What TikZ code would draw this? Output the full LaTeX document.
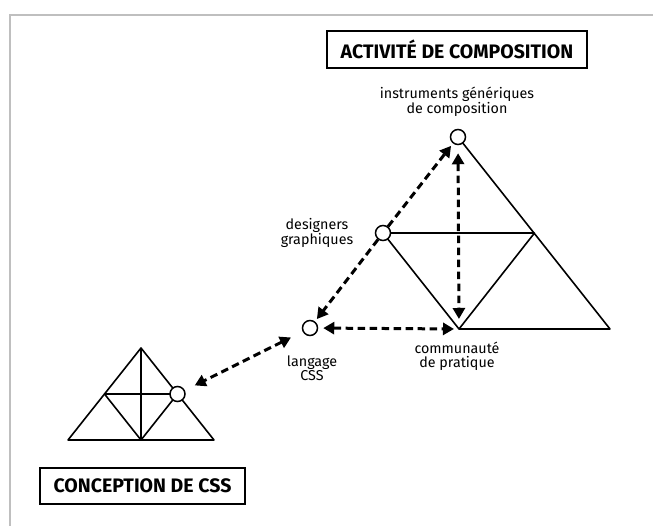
\documentclass[tikz,border=0pt]{standalone}
\usepackage{fontspec}
\setmainfont{Fira Sans}
\usetikzlibrary{arrows.meta}
\tikzset{
  tri/.style={line width=1.6pt, line join=round},
  vtx/.style={circle, draw, fill=white, line width=1.5pt, minimum size=15pt, inner sep=0pt},
  darr/.style={line width=3pt, dash pattern=on 7.5pt off 4.5pt, -{Triangle[length=11pt,width=12pt]}},
  ddarr/.style={line width=3pt, dash pattern=on 7.5pt off 4.5pt, {Triangle[length=11pt,width=12pt]}-{Triangle[length=11pt,width=12pt]}},
  lbl/.style={font=\fontsize{14.3}{14}\selectfont, align=center, inner sep=0pt},
  title/.style={draw, line width=1.8pt, font=\fontsize{19.5}{22}\selectfont\bfseries, inner sep=0pt, minimum height=37pt}
}
\begin{document}
\begin{tikzpicture}[x=1pt,y=-1pt]
\useasboundingbox (0,0) rectangle (653,526);
\draw[line width=1.5pt, black!25] (10,526) -- (10,15) -- (653,15);
% big triangle
\coordinate (A) at (458,137);
\coordinate (L) at (308,329);
\coordinate (R) at (610,329);
\coordinate (M) at (459,329);
\coordinate (D) at (383,233);
\coordinate (E) at (534.5,233);
\draw[tri] (A) -- (R) -- (M) -- (D) -- (E) -- (M);
% small triangle
\coordinate (sA) at (141,348);
\coordinate (sL) at (68,440);
\coordinate (sR) at (214,440);
\coordinate (sM) at (141,440);
\coordinate (sD) at (104.5,394);
\coordinate (sE) at (177.5,394);
\draw[tri] (sA) -- (sR) -- (sL) -- cycle;
\draw[tri] (sA) -- (sM);
\draw[tri] (sD) -- (sE) -- (sM) -- cycle;
% vertices
\node[vtx] (apex) at (A) {};
\node[vtx] (des) at (D) {};
\node[vtx] (lang) at (310,328) {};
\node[vtx] (css) at (sE) {};
% arrows
\draw[darr, shorten >=3pt] (des) -- (apex);
\draw[darr, shorten >=3pt] (des) -- (lang);
\draw[ddarr, shorten <=8pt, shorten >=10pt] (apex) -- (M);
\draw[ddarr, shorten <=5pt, shorten >=5pt] (lang) -- (M);
\draw[ddarr, shorten <=13pt, shorten >=11pt] (lang) -- (css);
% labels
\node[lbl] (l1) at (457,102) {instruments génériques\\de composition};
\node[lbl] (l2) at (317,233) {designers\\graphiques};
\node[lbl] (l3) at (457,356) {communauté\\de pratique};
\node[lbl] (l4) at (312,368) {langage\\CSS};
% titles
\node[title, minimum width=260pt] (t1) at (457,49.5) {ACTIVITÉ DE COMPOSITION};
\node[title, minimum width=205pt, minimum height=36pt] (t2) at (142.5,486) {CONCEPTION DE CSS};
\end{tikzpicture}
\end{document}
